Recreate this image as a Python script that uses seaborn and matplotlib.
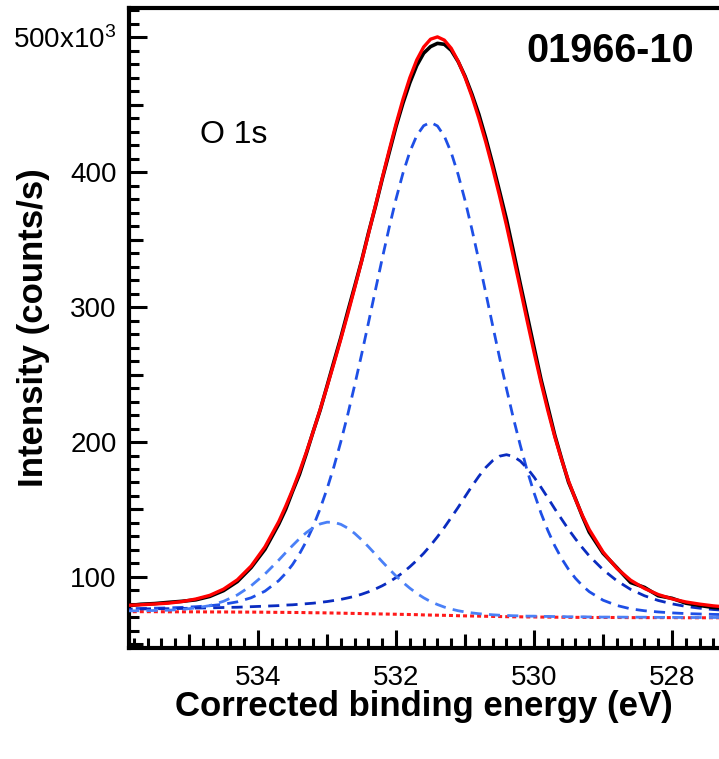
import matplotlib
matplotlib.use("Agg")
import numpy as np
import pandas as pd
import matplotlib.pyplot as plt
import matplotlib.ticker as mticker
import matplotlib.transforms as mtrans
import seaborn as sns

# ---------------- data (intensity in units of 10^3 counts/s) ----------------
energy = [535.9, 535.7, 535.5, 535.3, 535.1, 534.9, 534.7, 534.5, 534.3, 534.1, 533.9, 533.7,
          533.6, 533.5, 533.4, 533.3, 533.2, 533.1, 533.0, 532.9, 532.8, 532.7, 532.6, 532.5,
          532.4, 532.3, 532.2, 532.1, 532.0, 531.9, 531.8, 531.7, 531.6, 531.5, 531.4, 531.3,
          531.2, 531.1, 531.0, 530.9, 530.8, 530.7, 530.6, 530.5, 530.4, 530.3, 530.2, 530.1,
          530.0, 529.9, 529.8, 529.7, 529.6, 529.5, 529.4, 529.3, 529.2,
          529.0, 528.8, 528.6, 528.4, 528.2, 528.0, 527.8, 527.6, 527.4, 527.2]

background = [74.3, 74.3, 74.3, 74.2, 74.2, 74.2, 74.1, 74.1, 74.0, 74.0, 73.9, 73.8,
              73.8, 73.7, 73.7, 73.6, 73.5, 73.5, 73.4, 73.3, 73.2, 73.1, 73.0, 72.9,
              72.8, 72.7, 72.6, 72.5, 72.4, 72.3, 72.2, 72.1, 71.9, 71.8, 71.7, 71.6,
              71.5, 71.3, 71.2, 71.1, 71.0, 70.9, 70.8, 70.7, 70.6, 70.5, 70.5, 70.4,
              70.4, 70.3, 70.3, 70.2, 70.2, 70.1, 70.1, 70.1, 70.0,
              70.0, 70.0, 69.9, 69.9, 69.9, 69.9, 69.8, 69.8, 69.8, 69.8]

# component peaks, net height above background
comp_main = [2.2, 2.4, 2.6, 2.9, 3.3, 3.8, 4.6, 5.7, 7.6, 10.6, 15.6, 23.5,
             28.9, 35.5, 43.4, 52.9, 64.1, 77.1, 91.9, 108.5, 127.1, 147.2, 169.0, 191.8,
             215.5, 239.6, 263.4, 286.3, 307.7, 326.8, 342.8, 354.9, 362.4, 365.0, 362.4, 354.9,
             342.8, 326.8, 307.7, 286.3, 263.4, 239.6, 215.5, 191.8, 169.0, 147.2, 127.1, 108.5,
             91.9, 77.1, 64.1, 52.9, 43.4, 35.5, 28.9, 23.5, 19.1,
             12.8, 8.9, 6.5, 5.1, 4.2, 3.5, 3.1, 2.8, 2.5, 2.3]

comp_low = [1.9, 2.0, 2.2, 2.3, 2.5, 2.8, 3.0, 3.3, 3.6, 4.0, 4.5, 5.0,
            5.4, 5.7, 6.1, 6.6, 7.1, 7.7, 8.4, 9.3, 10.2, 11.4, 12.7, 14.3,
            16.2, 18.4, 20.9, 23.8, 27.2, 31.0, 35.4, 40.2, 45.6, 51.6, 58.1, 65.1,
            72.6, 80.3, 88.3, 96.2, 103.6, 110.2, 115.4, 118.8, 120.0, 118.8, 115.4, 110.2,
            103.6, 96.2, 88.3, 80.3, 72.6, 65.1, 58.1, 51.6, 45.6,
            35.4, 27.2, 20.9, 16.2, 12.7, 10.2, 8.4, 7.1, 6.1, 5.4]

comp_high = [0.6, 0.7, 0.9, 1.2, 1.8, 2.9, 4.7, 7.9, 12.7, 19.5, 28.3, 38.7,
             44.2, 49.6, 54.7, 59.3, 63.1, 65.8, 67.2, 67.2, 65.8, 63.1, 59.3, 54.7,
             49.6, 44.2, 38.7, 33.4, 28.3, 23.7, 19.5, 15.8, 12.7, 10.0, 7.9, 6.1,
             4.7, 3.7, 2.9, 2.3, 1.8, 1.5, 1.2, 1.0, 0.9, 0.8, 0.7, 0.6,
             0.6, 0.5, 0.5, 0.5, 0.5, 0.4, 0.4, 0.4, 0.4,
             0.3, 0.3, 0.3, 0.3, 0.2, 0.2, 0.2, 0.2, 0.2, 0.2]

envelope = [79.0, 79.4, 80.0, 80.6, 81.8, 83.7, 86.4, 91.0, 97.9, 108.1, 122.3, 141.0,
            152.3, 164.5, 177.9, 192.4, 207.8, 224.1, 240.9, 258.3, 276.3, 294.8, 314.0, 333.7,
            354.1, 374.9, 395.6, 416.0, 435.6, 453.8, 469.9, 483.0, 492.6, 498.4, 500.1, 497.7,
            491.6, 482.1, 470.1, 455.9, 439.8, 422.2, 402.9, 382.3, 360.5, 337.3, 313.7, 289.7,
            266.5, 244.1, 223.2, 203.9, 186.7, 171.1, 157.5, 145.6, 135.1,
            118.5, 106.4, 97.6, 91.5, 87.0, 83.8, 81.5, 79.9, 78.6, 77.7]

measured = [78.6, 79.8, 80.3, 81.2, 82.0, 83.1, 85.6, 89.9, 96.6, 107.0, 120.5, 139.2,
            150.1, 163.4, 176.0, 191.5, 207.9, 223.6, 241.5, 259.6, 277.4, 296.6, 315.2, 334.1,
            354.8, 374.2, 394.9, 414.3, 433.8, 451.0, 466.2, 478.9, 488.0, 492.9, 495.3, 494.6,
            490.1, 481.8, 470.9, 457.6, 442.7, 425.1, 405.9, 385.6, 364.9, 341.4, 317.2, 293.8,
            270.1, 246.5, 225.9, 205.1, 187.3, 170.2, 157.9, 145.0, 133.2,
            117.6, 106.9, 95.9, 92.3, 86.1, 84.2, 80.6, 78.9, 77.4, 76.8]

x_ticks = [534, 532, 530, 528]
x_tick_labels = ["534", "532", "530", "528"]
y_ticks = [100, 200, 300, 400, 500]
y_tick_labels = ["100", "200", "300", "400", "500x10$^{3}$"]
x_medium = [535, 533, 531, 529]
y_medium = [50, 150, 250, 350, 450]

sample_label = "01966-10"
region_label = "O 1s"
x_title = "Corrected binding energy (eV)"
y_title = "Intensity (counts/s)"

# ---------------- style ----------------
sns.set_style("ticks")
plt.rcParams["font.family"] = ["Liberation Sans", "DejaVu Sans"]
plt.rcParams["mathtext.fontset"] = "custom"
plt.rcParams["mathtext.rm"] = "Liberation Sans"
plt.rcParams["mathtext.it"] = "Liberation Sans:italic"
plt.rcParams["mathtext.bf"] = "Liberation Sans:bold"
for key in ["text.color", "axes.labelcolor", "xtick.color", "ytick.color",
            "xtick.labelcolor", "ytick.labelcolor", "axes.edgecolor"]:
    plt.rcParams[key] = "black"

fig = plt.figure(figsize=(7.19, 7.59), dpi=100)
ax = fig.add_axes([129 / 719, 111 / 759, 590 / 719, 640 / 759])

df = pd.DataFrame({
    "energy": energy,
    "background": background,
    "main": np.array(comp_main) + np.array(background),
    "low": np.array(comp_low) + np.array(background),
    "high": np.array(comp_high) + np.array(background),
    "envelope": envelope,
    "measured": measured,
})

dash = (0, (4, 2.6))
sns.lineplot(data=df, x="energy", y="background", ax=ax, color="#ff1a1a",
             linewidth=2.2, linestyle=(0, (1.3, 1.0)), zorder=2)
sns.lineplot(data=df, x="energy", y="main", ax=ax, color="#1e4fe6",
             linewidth=2.0, linestyle=dash, zorder=3)
sns.lineplot(data=df, x="energy", y="low", ax=ax, color="#0a2cc0",
             linewidth=2.0, linestyle=dash, zorder=3)
sns.lineplot(data=df, x="energy", y="high", ax=ax, color="#4a80f7",
             linewidth=2.0, linestyle=dash, zorder=3)
sns.lineplot(data=df, x="energy", y="measured", ax=ax, color="black",
             linewidth=2.6, zorder=4)
sns.lineplot(data=df, x="energy", y="envelope", ax=ax, color="#ff0000",
             linewidth=2.4, zorder=5)

ax.set_xlim(535.87, 527.32)
ax.set_ylim(47.4, 521.5)

# spines
for side in ["left", "bottom", "top"]:
    ax.spines[side].set_linewidth(3.0)
    ax.spines[side].set_color("black")
ax.spines["right"].set_visible(False)

# ticks
ax.set_xticks(x_ticks)
ax.set_xticklabels(x_tick_labels)
ax.set_yticks(y_ticks)
ax.set_yticklabels(y_tick_labels)
ax.xaxis.set_minor_locator(mticker.MultipleLocator(0.2))
ax.yaxis.set_minor_locator(mticker.MultipleLocator(10))
ax.tick_params(axis="both", which="major", direction="in", length=13, width=2.2,
               labelsize=20, color="black", labelcolor="black", top=False, right=False)
ax.tick_params(axis="both", which="minor", direction="in", length=7, width=2.2,
               color="black", top=False, right=False)
ax.tick_params(axis="x", which="major", pad=12)
ax.tick_params(axis="y", which="major", pad=9)

# medium-length ticks at odd eV and at 50k steps
tr_x = mtrans.blended_transform_factory(ax.transData, ax.transAxes)
tr_y = mtrans.blended_transform_factory(ax.transAxes, ax.transData)
ax.plot(x_medium, [0] * len(x_medium), linestyle="none", marker=2, markersize=10,
        markeredgewidth=2.2, color="black", transform=tr_x, clip_on=False, zorder=6)
ax.plot([0] * len(y_medium), y_medium, linestyle="none", marker=1, markersize=10,
        markeredgewidth=2.2, color="black", transform=tr_y, clip_on=False, zorder=6)

# labels
ax.set_xlabel(x_title, fontsize=25, fontweight="bold", color="black")
ax.set_ylabel(y_title, fontsize=25, fontweight="bold", color="black")
ax.xaxis.set_label_coords(0.5, -0.066)
ax.yaxis.set_label_coords(-0.134, 0.5)

ax.text(0.815, 0.9156, sample_label, transform=ax.transAxes, fontsize=28.5,
        fontweight="bold", ha="center", va="baseline", color="black")
ax.text(0.1203, 0.789, region_label, transform=ax.transAxes, fontsize=23,
        ha="left", va="baseline", color="black")

fig.savefig("out.png", dpi=100)
